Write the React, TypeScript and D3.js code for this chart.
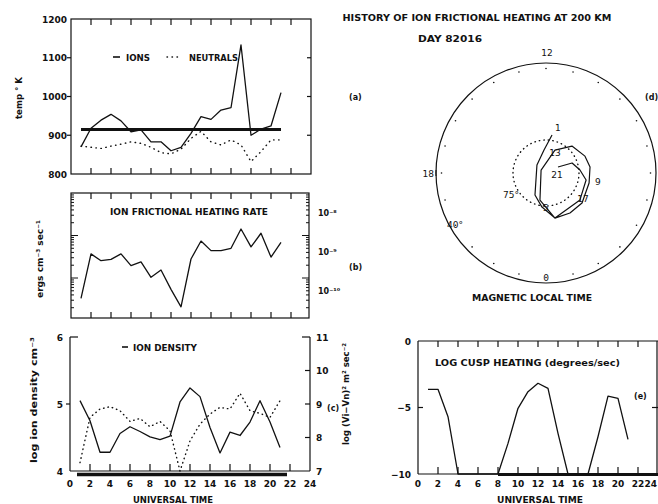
import React, { useEffect, useRef } from 'react'
import * as d3 from 'd3'

// universal time, hours
const hours = [1, 2, 3, 4, 5, 6, 7, 8, 9, 10, 11, 12, 13, 14, 15, 16, 17, 18, 19, 20, 21]
const evenHours = [2, 4, 6, 8, 10, 12, 14, 16, 18, 20, 22]
const hourLabels = [0, 2, 4, 6, 8, 10, 12, 14, 16, 18, 20, 22, 24]

// (a) temperatures, K
const ionTemp = [870, 918, 939, 954, 937, 909, 914, 883, 883, 860, 869, 905, 948, 941, 965, 971, 1133, 900, 916, 924, 1010]
const neutralTemp = [872, 869, 866, 872, 877, 883, 879, 869, 855, 852, 864, 892, 910, 883, 875, 888, 875, 832, 858, 888, 888]
const meanIonTemp = 915
const tempTicks = [800, 900, 1000, 1100, 1200]

// (b) ion frictional heating rate, ergs cm-3 sec-1
const heatingRate = [3.3e-10, 3.7e-9, 2.55e-9, 2.75e-9, 3.7e-9, 1.95e-9, 2.4e-9, 1.04e-9, 1.54e-9, 5.4e-10, 2.1e-10,
  2.8e-9, 7.4e-9, 4.4e-9, 4.4e-9, 5.0e-9, 1.42e-8, 5.4e-9, 1.13e-8, 3.1e-9, 6.9e-9]
const rateTicks = [1e-8, 1e-9, 1e-10]
const rateTickLabels = ['10⁻⁸', '10⁻⁹', '10⁻¹⁰']

// (c) log ion density and log (Vi-Vn)^2
const ionDensity = [5.05, 4.75, 4.28, 4.28, 4.56, 4.66, 4.59, 4.51, 4.47, 4.52, 5.03, 5.24, 5.11, 4.65, 4.27, 4.58, 4.53, 4.73, 5.05, 4.73, 4.35]
const logVelSq = [7.25, 8.6, 8.85, 8.92, 8.8, 8.48, 8.57, 8.32, 8.48, 8.2, 7.0, 7.9, 8.4, 8.7, 8.9, 8.85, 9.32, 8.8, 8.72, 8.6, 9.1]
const densityTicks = [4, 5, 6]
const velTicks = [7, 8, 9, 10, 11]
const densityCoverage = [0.7, 21.7]

// (d) cusp position: magnetic local time (h) and latitude (deg)
const cuspMlt = [11.4, 12.33, 15.23, 22.23, 23.55, 0.75, 2.06, 3.35, 5.13, 6.52, 7.56, 9.07, 10.58, 15.94, 23.16, 0.75, 3.44, 5.34, 6.34, 7.4, 7.77]
const cuspLat = [72.5, 79.5, 84.5, 78.8, 74.4, 69.1, 68.8, 68.7, 69.9, 69.8, 70.7, 73, 78.8, 87.4, 77.4, 69.1, 70.3, 71.5, 74.5, 77.3, 83.9]
const labelledHours = [1, 5, 9, 13, 17, 21]
const mltHours = [0, 1, 2, 3, 4, 5, 6, 7, 8, 9, 10, 11, 12, 13, 14, 15, 16, 17, 18, 19, 20, 21, 22, 23]

// (e) log cusp heating, degrees/sec
const cuspHeating = [-3.63, -3.63, -5.69, -10, -10, -10, -10, -10, -7.7, -5.06, -3.81, -3.18, -3.56, -6.94, -10, -10, -10, -7.2, -4.14, -4.31, -7.39]
const heatingTicks = [0, -5, -10]
const heatingCoverage = [8, 24]

const FONT = 'DejaVu Sans'

export default function App() {
  const ref = useRef<SVGSVGElement>(null)

  useEffect(() => {
    const svg = d3.select(ref.current)
    svg.selectAll('*').remove()

    const text = (x: number, y: number, s: string, size = 9, anchor = 'start', len?: number, rot = 0, weight = 'bold') => {
      const t = svg.append('text')
        .attr('x', x).attr('y', y)
        .attr('font-family', FONT).attr('font-size', size).attr('font-weight', weight)
        .attr('text-anchor', anchor).attr('fill', '#111')
        .text(s)
      if (len) t.attr('textLength', len).attr('lengthAdjust', 'spacingAndGlyphs')
      if (rot) t.attr('transform', `rotate(${rot},${x},${y})`)
      return t
    }
    const seg = (x1: number, y1: number, x2: number, y2: number, w = 1.2) =>
      svg.append('line').attr('x1', x1).attr('y1', y1).attr('x2', x2).attr('y2', y2)
        .attr('stroke', '#111').attr('stroke-width', w)
    const path = (d: string | null, w = 1.3, dash?: string) => {
      const p = svg.append('path').attr('d', d).attr('fill', 'none').attr('stroke', '#111')
        .attr('stroke-width', w).attr('stroke-linejoin', 'round')
      if (dash) p.attr('stroke-dasharray', dash).attr('stroke-linecap', 'round')
      return p
    }

    // ---------- (a) temperature ----------
    const xA = d3.scaleLinear().domain([0, 24]).range([71, 311])
    const yA = d3.scaleLinear().domain([800, 1200]).range([174, 19])
    svg.append('rect').attr('x', xA(0)).attr('y', yA(1200)).attr('width', xA(24) - xA(0))
      .attr('height', yA(800) - yA(1200)).attr('fill', 'none').attr('stroke', '#111').attr('stroke-width', 1.2)
    evenHours.forEach(h => {
      seg(xA(h), yA(1200), xA(h), yA(1200) + 6)
      seg(xA(h), yA(800), xA(h), yA(800) - 6)
    })
    tempTicks.forEach(v => {
      text(67, yA(v) + 3.5, String(v), 9, 'end')
      if (v > 800 && v < 1200) {
        seg(xA(0) - 4, yA(v), xA(0), yA(v))
        seg(xA(24) - 4, yA(v), xA(24), yA(v))
      }
    })
    const lineA = d3.line<number>().x((_, i) => xA(hours[i]))
    path(lineA.y(d => yA(d))(ionTemp))
    path(lineA.y(d => yA(d))(neutralTemp), 1.4, '0.5 4.5')
    seg(xA(hours[0]), yA(meanIonTemp), xA(hours[hours.length - 1]), yA(meanIonTemp), 3)
    seg(113, 57, 120, 57, 1.6)
    text(126, 60.5, 'IONS', 8, 'start', 24)
    path(`M167,57L180,57`, 1.4, '0.5 4.5')
    text(189, 60.5, 'NEUTRALS', 8, 'start', 49)
    text(22, 98, 'temp ° K', 9, 'middle', 42, -90)
    text(349, 100, '(a)', 8)

    // ---------- (b) heating rate ----------
    const yB = d3.scaleLog().domain([1e-10, 1e-7]).range([320.5, 193])
    const yBLabel = d3.scaleLog().domain([1e-10, 1e-8]).range([291, 213])
    svg.append('rect').attr('x', xA(0)).attr('y', 193).attr('width', xA(24) - xA(0) - 2)
      .attr('height', 125).attr('fill', 'none').attr('stroke', '#111').attr('stroke-width', 1.2)
    evenHours.forEach(h => {
      seg(xA(h), 193, xA(h), 199)
      seg(xA(h), 318, xA(h), 312)
    })
    ;[1e-10, 1e-9, 1e-8].forEach(dec => {
      d3.range(1, 10).forEach(k => {
        const y = yB(k * dec)
        if (y < 194 || y > 317) return
        const len = k === 1 ? 7 : 3
        seg(xA(0), y, xA(0) + len, y, 1)
        seg(xA(24) - 2, y, xA(24) - 2 - len, y, 1)
      })
    })
    rateTicks.forEach((v, i) => text(318, yBLabel(v) + 3, rateTickLabels[i], 8))
    path(d3.line<number>().x((_, i) => xA(hours[i])).y(d => yB(d))(heatingRate))
    text(110, 215, 'ION FRICTIONAL HEATING RATE', 8, 'start', 158)
    text(43, 259, 'ergs cm⁻³ sec⁻¹', 9, 'middle', 78, -90)
    text(349, 270, '(b)', 8)

    // ---------- (c) density / velocity ----------
    const yC = d3.scaleLinear().domain([4, 6]).range([471, 337])
    const yC2 = d3.scaleLinear().domain([7, 11]).range([471, 337])
    const xC = d3.scaleLinear().domain([0, 24]).range([70, 310])
    seg(xC(0), 337, xC(0), 471)
    seg(xC(0), 337, xC(0) + 8, 337)
    seg(xC(24), 337, xC(24), 471)
    seg(xC(24) - 8, 337, xC(24), 337)
    seg(xC(0), 471, xC(24), 471)
    seg(xC(densityCoverage[0]), 474.5, xC(densityCoverage[1]), 474.5, 3.5)
    evenHours.forEach(h => seg(xC(h), 471, xC(h), 464))
    densityTicks.forEach(v => text(63, yC(v) + 3.5, String(v), 9, 'end'))
    seg(xC(0) - 4, yC(5), xC(0), yC(5))
    velTicks.forEach(v => {
      text(316, yC2(v) + 3.5, String(v), 9)
      if (v > 7 && v < 11) seg(xC(24) - 5, yC2(v), xC(24), yC2(v))
    })
    hourLabels.forEach(h => text(xC(h), 487, String(h), 9, 'middle'))
    const lineC = d3.line<number>().x((_, i) => xC(hours[i]))
    path(lineC.y(d => yC(d))(ionDensity))
    path(lineC.y(d => yC2(d))(logVelSq), 1.4, '0.5 4')
    seg(122, 347, 128, 347, 1.6)
    text(133, 350.5, 'ION DENSITY', 8, 'start', 64)
    text(173, 503, 'UNIVERSAL TIME', 8, 'middle', 80)
    text(37, 400, 'log ion density cm⁻³', 9, 'middle', 126, -90)
    text(349, 394, 'log (Vi−Vn)²   m² sec⁻²', 9, 'middle', 102, -90)
    text(327, 411, '(c)', 8)

    // ---------- (e) cusp heating ----------
    const xE = d3.scaleLinear().domain([0, 24]).range([418, 658])
    const yE = d3.scaleLinear().domain([-10, 0]).range([474, 341])
    seg(xE(0), 341, xE(24), 341)
    seg(xE(0), 341, xE(0), 474)
    seg(xE(24) - 1, 341, xE(24) - 1, 474)
    seg(xE(0), 474, xE(24), 474)
    seg(xE(heatingCoverage[0]), 474.5, xE(heatingCoverage[1]), 474.5, 3)
    evenHours.forEach(h => {
      seg(xE(h), 341, xE(h), 347)
      seg(xE(h), 474, xE(h), 467)
    })
    heatingTicks.forEach(v => text(411, yE(v) + 3.5, v < 0 ? `−${-v}` : String(v), 9, 'end'))
    seg(xE(0), yE(-5), xE(0) + 5, yE(-5))
    seg(xE(24) - 6, yE(-5), xE(24), yE(-5))
    // the last label sits on the page edge: keep it inside
    hourLabels.forEach(h => h === 24
      ? text(xE(h) - 1, 487, String(h), 9, 'end')
      : text(xE(h), 487, String(h), 9, 'middle'))
    path(d3.line<number>().x((_, i) => xE(hours[i])).y(d => yE(d))(cuspHeating))
    text(435, 366, 'LOG CUSP HEATING (degrees/sec)', 8, 'start', 185)
    text(634, 399, '(e)', 8)
    text(540, 503, 'UNIVERSAL TIME', 8, 'middle', 86)

    // ---------- (d) polar plot ----------
    const cx = 546, cy = 173
    const rScale = d3.scaleLinear().domain([90, 40]).range([0, 110])
    const pt = (mlt: number, lat: number): [number, number] => {
      const a = (mlt / 24) * 2 * Math.PI
      const r = rScale(lat)
      return [cx + r * Math.sin(a), cy + r * Math.cos(a)]
    }
    svg.append('circle').attr('cx', cx).attr('cy', cy).attr('r', rScale(40))
      .attr('fill', 'none').attr('stroke', '#111').attr('stroke-width', 1.2)
    svg.append('circle').attr('cx', cx).attr('cy', cy).attr('r', rScale(75))
      .attr('fill', 'none').attr('stroke', '#111').attr('stroke-width', 1.4)
      .attr('stroke-dasharray', '0.5 4').attr('stroke-linecap', 'round')
    mltHours.forEach(h => {
      const [x, y] = pt(h, 42.5)
      svg.append('circle').attr('cx', x).attr('cy', y).attr('r', 0.8).attr('fill', '#111')
    })
    const [tx1, ty1] = pt(18, 40)
    seg(tx1, ty1 - 3, tx1, ty1 + 3, 1)
    path(d3.line<number>().x((_, i) => pt(cuspMlt[i], cuspLat[i])[0]).y((_, i) => pt(cuspMlt[i], cuspLat[i])[1])(cuspMlt), 1.2)
    const labelOffsets: Record<number, [number, number, string]> = {
      1: [3, -4, 'start'], 5: [4, 4, 'middle'], 9: [6, 2, 'start'],
      13: [0, 6, 'middle'], 17: [3, 2, 'middle'], 21: [-1, 11, 'middle'],
    }
    labelledHours.forEach(h => {
      const i = hours.indexOf(h)
      const [x, y] = pt(cuspMlt[i], cuspLat[i])
      const [dx, dy, anchor] = labelOffsets[h]
      text(x + dx, y + dy, String(h), 9, anchor, undefined, 0, 'normal')
    })
    text(477, 21, 'HISTORY OF ION FRICTIONAL HEATING AT 200 KM', 8, 'middle', 269)
    text(450, 42, 'DAY 82016', 8, 'middle', 64)
    text(cx + 1, 56, '12', 9, 'middle', undefined, 0, 'normal')
    text(434, 177, '18', 9, 'end', undefined, 0, 'normal')
    text(cx, 281, '0', 9, 'middle', undefined, 0, 'normal')
    text(532, 301, 'MAGNETIC LOCAL TIME', 8, 'middle', 120)
    text(447, 228, '40°', 9, 'start', undefined, 0, 'normal')
    text(503, 198, '75°', 9, 'start', undefined, 0, 'normal')
    text(645, 100, '(d)', 8)
  }, [])

  return (
    <svg ref={ref} width={658} height={504}
      style={{ position: 'absolute', left: 0, top: 0, background: '#fff' }} />
  )
}
